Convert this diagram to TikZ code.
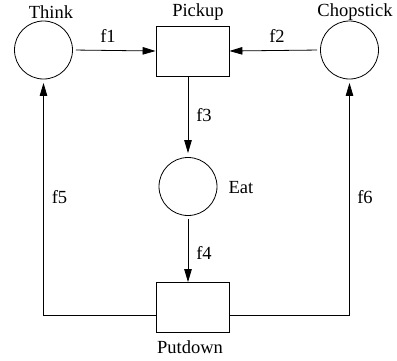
\documentclass[tikz,border=0pt]{standalone}
\usepackage{fontspec}
\setmainfont{Liberation Serif}
\usetikzlibrary{arrows.meta}
\begin{document}
\begin{tikzpicture}[x=1pt,y=-1pt,
  place/.style={draw,circle,line width=0.8pt,minimum size=58pt,inner sep=0pt},
  transition/.style={draw,rectangle,line width=0.8pt,minimum width=73pt,minimum height=50pt,inner sep=0pt},
  lbl/.style={font=\fontsize{18.5}{20}\selectfont,inner sep=0pt},
  arc/.style={line width=0.8pt,-{Triangle[length=13pt,width=7.5pt]}},
  wire/.style={line width=0.8pt}]
\useasboundingbox (0,0) rectangle (397,360);
% places and transitions
\node[place] (think) at (43.5,50) {};
\node[place] (chop) at (349.5,50) {};
\node[place] (eat) at (188,186.5) {};
\node[transition] (pickup) at (192.5,51) {};
\node[transition] (putdown) at (193,307.5) {};
% names
\node[lbl] (tthink) at (51,12) {Think};
\node[lbl] (tchop) at (355,12) {Chopstick};
\node[lbl] (tpick) at (198,12) {Pickup};
\node[lbl] (teat) at (241,188) {Eat};
\node[lbl] (tput) at (190,347) {Putdown};
% arc labels
\node[lbl] (l1) at (108,36) {f1};
\node[lbl] (l2) at (277,36) {f2};
\node[lbl] (l3) at (204,115) {f3};
\node[lbl] (l4) at (204,253) {f4};
\node[lbl] (l5) at (59.5,197) {f5};
\node[lbl] (l6) at (365,197) {f6};
% corner points of the return arcs
\coordinate (cl) at (43.5,315);
\coordinate (cr) at (349.5,315);
% arcs
\draw[arc,shorten <=3pt] (think.east) -- (pickup.west);
\draw[arc,shorten <=3pt] (chop.west) -- (pickup.east);
\draw[arc,shorten >=4pt] (pickup.south -| eat.north) -- (eat.north);
\draw[arc,shorten <=3pt] (eat.south) -- (putdown.north -| eat.south);
\draw[arc,shorten >=3.5pt] (putdown.west |- cl) -- (cl) -- (think.south);
\draw[arc,shorten >=3.5pt] (putdown.east |- cr) -- (cr) -- (chop.south);
\end{tikzpicture}
\end{document}
